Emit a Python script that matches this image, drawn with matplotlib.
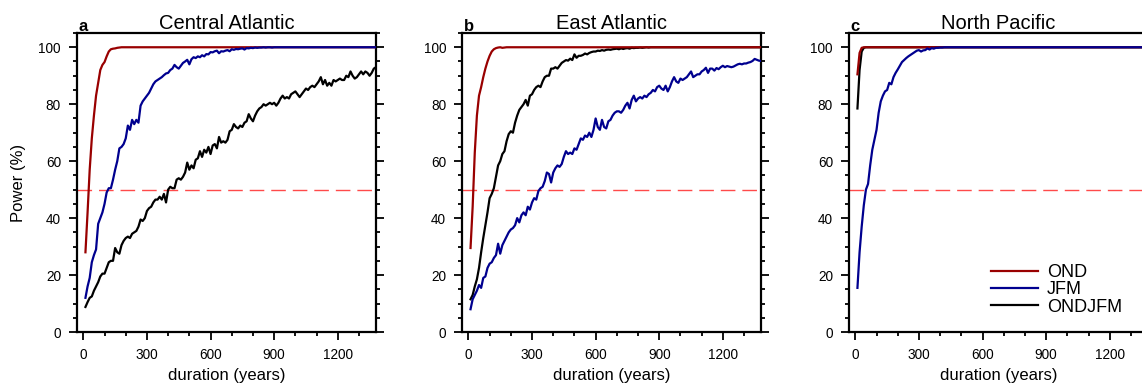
#!/usr/bin/python3

import numpy as np
import matplotlib
matplotlib.use("Agg")
import matplotlib.pyplot as plt
from matplotlib.ticker import MultipleLocator

#duration axis, 10 to 1380 years every 10 years
duration = np.arange(10, 1390, 10)

regions = ["Central Atlantic", "East Atlantic", "North Pacific"]
panel_tags = ["a", "b", "c"]
season_names = ["OND", "JFM", "ONDJFM"]

#Central Atlantic
ca_ond = [
    28, 42, 57, 68, 76, 83, 87.5, 92, 93.8, 94.8,
    96.8, 98.5, 99.3, 99.5, 99.6, 99.8, 99.9, 100, 100, 100,
    100, 100, 100, 100, 100, 100, 100, 100, 100, 100,
    100, 100, 100, 100, 100, 100, 100, 100, 100, 100,
    100, 100, 100, 100, 100, 100, 100, 100, 100, 100,
    100, 100, 100, 100, 100, 100, 100, 100, 100, 100,
    100, 100, 100, 100, 100, 100, 100, 100, 100, 100,
    100, 100, 100, 100, 100, 100, 100, 100, 100, 100,
    100, 100, 100, 100, 100, 100, 100, 100, 100, 100,
    100, 100, 100, 100, 100, 100, 100, 100, 100, 100,
    100, 100, 100, 100, 100, 100, 100, 100, 100, 100,
    100, 100, 100, 100, 100, 100, 100, 100, 100, 100,
    100, 100, 100, 100, 100, 100, 100, 100, 100, 100,
    100, 100, 100, 100, 100, 100, 100, 100]
ca_jfm = [
    12, 16, 19, 24.5, 27, 29, 38, 40, 42, 45,
    49, 50.5, 50.5, 53.5, 57, 60, 64.5, 65, 66, 68,
    72.5, 71, 74.5, 73, 74.5, 73.5, 79.5, 81, 82, 83,
    84, 85.5, 87, 88, 88.5, 89, 89.5, 90.2, 90.8, 91,
    92, 92.5, 93.8, 93, 92.5, 93.5, 94.5, 95, 95.6, 94,
    95.8, 96.5, 96.2, 96.8, 96.5, 97.2, 96.8, 97.6, 97.5, 98.3,
    98.2, 98.6, 98.8, 97.9, 98.6, 98.5, 98.8, 99.0, 98.6, 99.3,
    99.1, 99.4, 99.3, 99.5, 99.6, 99.2, 99.7, 99.6, 99.8, 99.7,
    99.9, 99.8, 99.9, 99.9, 100, 99.9, 100, 100, 99.9, 100,
    100, 100, 100, 100, 100, 100, 100, 100, 100, 100,
    100, 100, 100, 100, 100, 100, 100, 100, 100, 100,
    100, 100, 100, 100, 100, 100, 100, 100, 100, 100,
    100, 100, 100, 100, 100, 100, 100, 100, 100, 100,
    100, 100, 100, 100, 100, 100, 100, 100]
ca_all = [
    8.8, 10.5, 12, 12.5, 14.5, 16, 17.5, 19.5, 20.5, 20.5,
    22.5, 24.5, 25, 25, 29.5, 28, 27.5, 30.5, 32, 33,
    33.5, 33, 34.5, 35, 35.5, 37, 39.5, 39, 40, 42.5,
    43.5, 44, 45.5, 46.5, 46.5, 47.5, 46.5, 48.5, 45.5, 50,
    51, 50.5, 50.5, 53.5, 54, 53.5, 54.5, 56, 59.5, 57,
    58.5, 57.5, 60.5, 61, 63.5, 61.5, 64, 63, 65, 62.5,
    65.5, 66, 64.5, 68.5, 66.5, 67, 66.5, 67.5, 70.5, 71,
    73, 72, 71.5, 72.5, 72, 73.5, 74, 76.5, 75, 74,
    76, 77.5, 78.5, 79, 80, 79.5, 80, 80.5, 80, 80.5,
    79.5, 80.5, 82, 83, 82, 82.5, 82, 83.5, 84, 84.5,
    83.5, 82.5, 83.5, 84.5, 85.5, 85, 86, 86.5, 86, 87,
    88, 89.5, 87, 88.5, 86.5, 87.5, 86.5, 88.5, 88, 88.5,
    89, 88.5, 88.5, 90, 89.5, 91.5, 90, 89, 89.5, 90.5,
    91.5, 90.5, 91.5, 91, 90, 91, 92.5, 93]

#East Atlantic
ea_ond = [
    29.5, 44, 63, 76, 83, 86, 89.5, 92.5, 95, 97,
    98.5, 99.3, 99.7, 99.9, 100, 99.8, 99.9, 100, 100, 100,
    100, 100, 100, 100, 100, 100, 100, 100, 100, 100,
    100, 100, 100, 100, 100, 100, 100, 100, 100, 100,
    100, 100, 100, 100, 100, 100, 100, 100, 100, 100,
    100, 100, 100, 100, 100, 100, 100, 100, 100, 100,
    100, 100, 100, 100, 100, 100, 100, 100, 100, 100,
    100, 100, 100, 100, 100, 100, 100, 100, 100, 100,
    100, 100, 100, 100, 100, 100, 100, 100, 100, 100,
    100, 100, 100, 100, 100, 100, 100, 100, 100, 100,
    100, 100, 100, 100, 100, 100, 100, 100, 100, 100,
    100, 100, 100, 100, 100, 100, 100, 100, 100, 100,
    100, 100, 100, 100, 100, 100, 100, 100, 100, 100,
    100, 100, 100, 100, 100, 100, 100, 100]
ea_jfm = [
    8, 11.5, 13, 14.5, 16.5, 15.5, 19, 19.5, 22.5, 24,
    24.5, 26, 27, 31, 27.5, 30.5, 32, 33.5, 35, 36,
    36.5, 37.5, 40, 38.5, 41, 42, 41, 44, 43, 45.5,
    47, 46.5, 49.5, 50.5, 51, 53, 56, 55.5, 52.5, 56,
    57.5, 58.5, 58, 59, 61.5, 63.5, 62.5, 63, 62.5, 64.5,
    64, 66, 68, 67.5, 69, 68.5, 70, 68.5, 71, 75,
    72, 71, 74.5, 72, 71.5, 74, 74.5, 76, 77, 77.5,
    77.5, 77, 78, 79.5, 80.5, 78.5, 81.5, 83, 81, 82,
    82.5, 82, 83, 82.5, 83.5, 84, 85, 84.5, 86, 86.5,
    85.5, 85, 86.5, 84.5, 86, 88, 89.5, 88, 87.5, 89,
    88.5, 89, 89.5, 90.5, 91.5, 89.5, 90, 90.5, 90.5, 91.5,
    92, 92.8, 91, 92.5, 92.5, 91.8, 92.7, 92.3, 93, 93.5,
    93, 93.4, 93.2, 93, 93.2, 93.6, 94, 94.2, 94, 94.3,
    94.3, 94.6, 94.8, 95.2, 95.9, 95.6, 95.3, 95.2]
ea_all = [
    11.5, 13, 16, 18.5, 22.5, 28, 33, 37.5, 42, 47,
    48.5, 50.5, 54.5, 58.5, 60, 62.5, 63.5, 67, 69.5, 70.5,
    70, 73.5, 76, 78, 79, 80, 81.5, 79.5, 83, 83.5,
    85, 86, 86.5, 86, 88, 89.5, 90, 90, 92.5, 92.5,
    93, 92.5, 93.5, 94.5, 95, 95.5, 95.3, 96, 95.5, 97.5,
    96.3, 97, 97, 97.3, 97.8, 97.5, 98, 98.3, 98.5, 98.5,
    98.8, 98.7, 99, 98.8, 99.1, 99.2, 99.1, 99.3, 99.4, 99.5,
    99.3, 99.6, 99.4, 99.6, 99.7, 99.5, 99.8, 99.7, 99.8, 99.8,
    99.9, 99.8, 99.9, 100, 99.9, 100, 100, 100, 100, 100,
    100, 100, 100, 100, 100, 100, 100, 100, 100, 100,
    100, 100, 100, 100, 100, 100, 100, 100, 100, 100,
    100, 100, 100, 100, 100, 100, 100, 100, 100, 100,
    100, 100, 100, 100, 100, 100, 100, 100, 100, 100,
    100, 100, 100, 100, 100, 100, 100, 100]

#North Pacific
np_ond = [
    90.5, 98, 99.8, 100, 100, 100, 100, 100, 100, 100,
    100, 100, 100, 100, 100, 100, 100, 100, 100, 100,
    100, 100, 100, 100, 100, 100, 100, 100, 100, 100,
    100, 100, 100, 100, 100, 100, 100, 100, 100, 100,
    100, 100, 100, 100, 100, 100, 100, 100, 100, 100,
    100, 100, 100, 100, 100, 100, 100, 100, 100, 100,
    100, 100, 100, 100, 100, 100, 100, 100, 100, 100,
    100, 100, 100, 100, 100, 100, 100, 100, 100, 100,
    100, 100, 100, 100, 100, 100, 100, 100, 100, 100,
    100, 100, 100, 100, 100, 100, 100, 100, 100, 100,
    100, 100, 100, 100, 100, 100, 100, 100, 100, 100,
    100, 100, 100, 100, 100, 100, 100, 100, 100, 100,
    100, 100, 100, 100, 100, 100, 100, 100, 100, 100,
    100, 100, 100, 100, 100, 100, 100, 100]
np_jfm = [
    15.5, 28, 37, 44.5, 50, 52, 58.5, 64, 67.5, 71,
    77, 81, 83, 84.5, 85, 87.5, 87, 89.5, 91, 92.2,
    93.5, 94.8, 95.5, 96.2, 96.8, 97.3, 97.8, 98.3, 98.8, 99,
    98.5, 98.9, 99, 99.6, 99.2, 99.7, 99.5, 99.8, 99.8, 99.9,
    99.9, 100, 100, 100, 100, 100, 100, 100, 100, 100,
    100, 100, 100, 100, 100, 100, 100, 100, 100, 100,
    100, 100, 100, 100, 100, 100, 100, 100, 100, 100,
    100, 100, 100, 100, 100, 100, 100, 100, 100, 100,
    100, 100, 100, 100, 100, 100, 100, 100, 100, 100,
    100, 100, 100, 100, 100, 100, 100, 100, 100, 100,
    100, 100, 100, 100, 100, 100, 100, 100, 100, 100,
    100, 100, 100, 100, 100, 100, 100, 100, 100, 100,
    100, 100, 100, 100, 100, 100, 100, 100, 100, 100,
    100, 100, 100, 100, 100, 100, 100, 100]
np_all = [
    78.5, 92, 98.5, 99.8, 100, 100, 100, 100, 100, 100,
    100, 100, 100, 100, 100, 100, 100, 100, 100, 100,
    100, 100, 100, 100, 100, 100, 100, 100, 100, 100,
    100, 100, 100, 100, 100, 100, 100, 100, 100, 100,
    100, 100, 100, 100, 100, 100, 100, 100, 100, 100,
    100, 100, 100, 100, 100, 100, 100, 100, 100, 100,
    100, 100, 100, 100, 100, 100, 100, 100, 100, 100,
    100, 100, 100, 100, 100, 100, 100, 100, 100, 100,
    100, 100, 100, 100, 100, 100, 100, 100, 100, 100,
    100, 100, 100, 100, 100, 100, 100, 100, 100, 100,
    100, 100, 100, 100, 100, 100, 100, 100, 100, 100,
    100, 100, 100, 100, 100, 100, 100, 100, 100, 100,
    100, 100, 100, 100, 100, 100, 100, 100, 100, 100,
    100, 100, 100, 100, 100, 100, 100, 100]

threshold = 50

#_____________________________________________________________________________
def main():

    plt.rcParams["font.family"] = ["Liberation Sans", "DejaVu Sans"]

    col_ond = "#990000"
    col_jfm = "#00008f"
    col_all = "black"
    col_thr = "#ff4a4a"

    fig = plt.figure(figsize=(11.42, 3.88), dpi=100)

    lefts = [0.0674, 0.4046, 0.7434]
    bottom = 0.1443
    width = 0.2618
    height = 0.7706

    data = [(ca_ond, ca_jfm, ca_all), (ea_ond, ea_jfm, ea_all), (np_ond, np_jfm, np_all)]

    for i in range(3):

        ax = fig.add_axes([lefts[i], bottom, width, height])
        ond, jfm, alls = data[i]

        ax.axhline(threshold, color=col_thr, lw=1.0, linestyle=(0, (10.5, 5)), zorder=1)

        l_all, = ax.plot(duration, alls, color=col_all, lw=1.6, zorder=2)
        l_ond, = ax.plot(duration, ond, color=col_ond, lw=1.6, zorder=3)
        l_jfm, = ax.plot(duration, jfm, color=col_jfm, lw=1.6, zorder=4)

        ax.set_xlim(-30, 1380)
        ax.set_ylim(0, 105)
        set_axes_style(ax)

        ax.set_xlabel("duration (years)", fontsize=12, labelpad=4)
        if i == 0:
            ax.set_ylabel("Power (%)", fontsize=12, labelpad=9)

        ax.set_title(regions[i], fontsize=14.5, pad=1.5)
        ax.text(0.005, 1.006, panel_tags[i], transform=ax.transAxes, fontsize=12,
                fontweight="bold", ha="left", va="baseline")

        if i == 2:
            ax.legend([l_ond, l_jfm, l_all], season_names, loc="lower left",
                      bbox_to_anchor=(0.474, 0.055), frameon=False, fontsize=13,
                      handlelength=2.6, handletextpad=0.5, labelspacing=0.02,
                      borderpad=0, borderaxespad=0)

    fig.savefig("out.png", dpi=100)
    plt.close()

#main

#_____________________________________________________________________________
def set_axes_style(ax):

    for sp in ax.spines.values():
        sp.set_linewidth(1.6)

    ax.xaxis.set_major_locator(MultipleLocator(300))
    ax.xaxis.set_minor_locator(MultipleLocator(100))
    ax.yaxis.set_major_locator(MultipleLocator(20))
    ax.yaxis.set_minor_locator(MultipleLocator(5))

    ax.tick_params(which="both", direction="out", top=False, right=True,
                   bottom=True, left=True, width=1.3)
    ax.tick_params(which="major", length=5.5, pad=6, labelsize=9.8)
    ax.tick_params(which="minor", length=3)

#set_axes_style

#_____________________________________________________________________________
if __name__ == "__main__":

    main()
